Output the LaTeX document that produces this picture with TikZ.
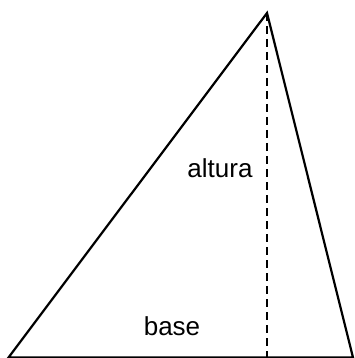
\documentclass[tikz,border=0pt]{standalone}
\usepackage{fontspec}
\setmainfont{Liberation Sans}
\tikzset{
  edge/.style={line width=2.2pt, line join=miter},
  heightline/.style={line width=2pt, dash pattern=on 8pt off 5pt},
  lbl/.style={anchor=base, inner sep=0pt, font=\fontsize{26}{30}\selectfont}
}
\begin{document}
\begin{tikzpicture}[x=1pt,y=-1pt]
\useasboundingbox (0,0) rectangle (355,358);
\coordinate (A) at (8.5,357.5);
\coordinate (B) at (267,13);
\coordinate (C) at (353,357.5);
\coordinate (H) at (267,357.5);
\draw[edge] (A) -- (B) -- (C) -- cycle;
\draw[heightline] (B) -- (H);
\node[lbl] (alt) at (220,177) {altura};
\node[lbl] (bas) at (172,335) {base};
\end{tikzpicture}
\end{document}
